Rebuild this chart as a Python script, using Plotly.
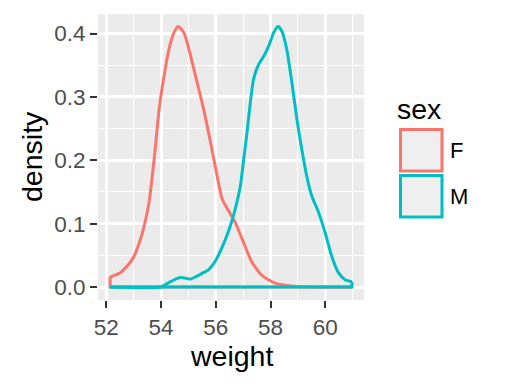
import plotly.graph_objects as go

# ---- data ----
groups = ["F", "M"]
colors = ["#F8766D", "#00BFC4"]

weight_F = [52.14, 52.53, 52.96, 53.29, 53.56, 53.75, 53.93, 54.11, 54.29, 54.47,
            54.63, 54.84, 55.02, 55.26, 55.56, 55.81, 56.05, 56.23, 56.47, 56.71,
            56.96, 57.32, 57.69, 58.17, 58.65, 59.50, 60.97]
density_F = [0.016, 0.023, 0.044, 0.081, 0.133, 0.202, 0.280, 0.333, 0.375, 0.401,
             0.411, 0.401, 0.375, 0.333, 0.280, 0.228, 0.175, 0.139, 0.120, 0.102,
             0.076, 0.039, 0.018, 0.006, 0.002, 0.000, 0.000]

weight_M = [52.14, 53.99, 54.29, 54.53, 54.71, 54.89, 55.08, 55.26, 55.50, 55.75,
            55.99, 56.23, 56.47, 56.71, 56.90, 57.02, 57.14, 57.26, 57.38, 57.56,
            57.75, 57.93, 58.11, 58.27, 58.41, 58.59, 58.78, 58.96, 59.14, 59.32,
            59.50, 59.75, 59.99, 60.23, 60.47, 60.72, 60.97]
density_M = [0.000, 0.000, 0.007, 0.0126, 0.0152, 0.014, 0.0126, 0.016, 0.0215, 0.028,
             0.0415, 0.0625, 0.0887, 0.123, 0.160, 0.202, 0.244, 0.291, 0.328, 0.351,
             0.364, 0.380, 0.401, 0.411, 0.404, 0.375, 0.322, 0.265, 0.217, 0.175,
             0.144, 0.118, 0.086, 0.049, 0.023, 0.0115, 0.0084]

x_ticks = [52, 54, 56, 58, 60]
y_ticks = [0.0, 0.1, 0.2, 0.3, 0.4]
x_title = "weight"
y_title = "density"
legend_title = "sex"

# ---- layout geometry (page pixels; the page body has an 8px margin) ----
OFF = 8
W, H = 518 - OFF, 384 - OFF
PL, PR, PT, PB = 98, 364, 14, 300          # panel edges in page pixels
L, R, T, B = PL - OFF, OFF + W - PR, PT - OFF, OFF + H - PB
pw, ph = PR - PL, PB - PT

def px(x):
    return (x - PL) / pw

def py(y):
    return (PB - y) / ph

font = "Liberation Sans, Arial, sans-serif"
TICK_SIZE, TITLE_SIZE, LABEL_SIZE = 22.5, 28.5, 22

fig = go.Figure()
series = [(weight_F, density_F), (weight_M, density_M)]
for (wx, dy), col in zip(series, colors):
    # curve (smooth)
    fig.add_trace(go.Scatter(x=wx, y=dy, mode="lines",
                             line=dict(color=col, width=3, shape="spline", smoothing=0.6),
                             hoverinfo="skip", showlegend=False))
    # closing edges + baseline of the density polygon
    fig.add_trace(go.Scatter(x=[wx[-1], wx[-1], wx[0], wx[0]],
                             y=[dy[-1], 0, 0, dy[0]], mode="lines",
                             line=dict(color=col, width=3),
                             hoverinfo="skip", showlegend=False))

axis_common = dict(
    showline=False, zeroline=False, ticks="outside", ticklen=7, tickwidth=2.4,
    tickcolor="#333333", tickfont=dict(family=font, size=TICK_SIZE, color="#4D4D4D"),
    showgrid=True, gridcolor="white", gridwidth=2.6,
)
fig.update_xaxes(range=[51.70, 61.41], tickvals=x_ticks,
                 ticktext=[str(v) for v in x_ticks],
                 minor=dict(dtick=1, tick0=51, showgrid=True, gridcolor="white",
                            gridwidth=1.3, ticks=""),
                 **axis_common)
fig.update_yaxes(range=[-0.0205, 0.4308], tickvals=y_ticks,
                 ticktext=[f"{v:.1f}" for v in y_ticks],
                 minor=dict(dtick=0.05, tick0=0, showgrid=True, gridcolor="white",
                            gridwidth=1.3, ticks=""),
                 **axis_common)

annotations = [
    dict(text=x_title, x=0.5, y=py(356), xref="paper", yref="paper",
         xanchor="center", yanchor="middle", showarrow=False,
         font=dict(family=font, size=TITLE_SIZE, color="black")),
    dict(text=y_title, x=px(32), y=0.5, xref="paper", yref="paper",
         xanchor="center", yanchor="middle", textangle=-90, showarrow=False,
         font=dict(family=font, size=TITLE_SIZE, color="black")),
    dict(text=legend_title, x=px(395), y=py(109), xref="paper", yref="paper",
         xanchor="left", yanchor="middle", showarrow=False,
         font=dict(family=font, size=TITLE_SIZE, color="black")),
]
shapes = []
key_tops = [128, 174]
for g, col, top in zip(groups, colors, key_tops):
    shapes.append(dict(type="rect", xref="paper", yref="paper",
                       x0=px(400.5), x1=px(442), y0=py(top + 1.5), y1=py(top + 43),
                       line=dict(color=col, width=3), fillcolor="#EFEFEF"))
    annotations.append(dict(text=g, x=px(448), y=py(top + 22), xref="paper", yref="paper",
                            xanchor="left", yanchor="middle", showarrow=False,
                            font=dict(family=font, size=LABEL_SIZE, color="black")))

fig.update_layout(
    width=W, height=H, margin=dict(l=L, r=R, t=T, b=B, autoexpand=False),
    plot_bgcolor="#EBEBEB", paper_bgcolor="white",
    showlegend=False, annotations=annotations, shapes=shapes,
    font=dict(family=font),
)

fig.write_html("out.html")
